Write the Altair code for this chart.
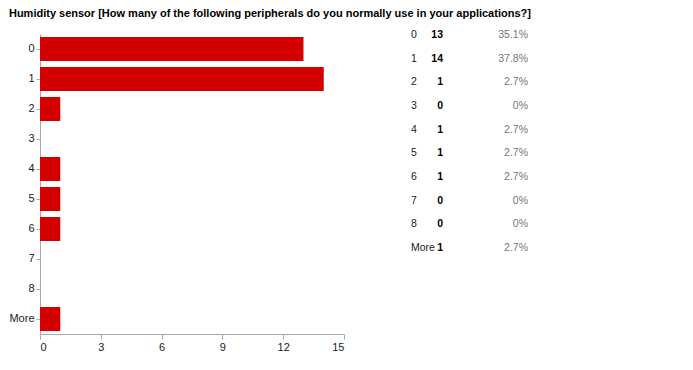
import altair as alt
import pandas as pd

categories = ["0", "1", "2", "3", "4", "5", "6", "7", "8", "More"]
counts = [13, 14, 1, 0, 1, 1, 1, 0, 0, 1]
pcts = ["35.1%", "37.8%", "2.7%", "0%", "2.7%", "2.7%", "2.7%", "0%", "0%", "2.7%"]
x_ticks = [0, 3, 6, 9, 12, 15]
title_text = "Humidity sensor [How many of the following peripherals do you normally use in your applications?]"

df = pd.DataFrame({"cat": categories, "count": counts, "pct": pcts})

FONT = "Liberation Sans, Arial, sans-serif"

bars = alt.Chart(df).mark_bar(color="#d40000").encode(
    y=alt.Y("cat:N", sort=categories, title=None,
            scale=alt.Scale(paddingInner=0.2, paddingOuter=0.1),
            axis=alt.Axis(domainColor="#aaaaaa", tickColor="#aaaaaa", tickSize=4,
                          labelPadding=2, labelFont=FONT, labelFontSize=11,
                          labelColor="#222222")),
    x=alt.X("count:Q", title=None,
            scale=alt.Scale(domain=[0, 15], nice=False),
            axis=alt.Axis(values=x_ticks, grid=False, domainColor="#aaaaaa",
                          tickColor="#aaaaaa", tickSize=5, labelPadding=2,
                          labelFont=FONT, labelFontSize=11, labelColor="#222222")),
)

ty = alt.Y("cat:N", sort=categories, axis=None,
           scale=alt.Scale(type="point", range=[1, 214], padding=0))

lab = alt.Chart(df).mark_text(align="left", baseline="middle", font=FONT,
                              fontSize=10.5, color="#222222").encode(
    y=ty, x=alt.value(371), text="cat:N")
cnt = alt.Chart(df).mark_text(align="right", baseline="middle", font=FONT,
                              fontSize=10.5, fontWeight="bold", color="#000000").encode(
    y=ty, x=alt.value(403), text="count:Q")
pct = alt.Chart(df).mark_text(align="right", baseline="middle", font=FONT,
                              fontSize=10.5, color="#777777").encode(
    y=ty, x=alt.value(488), text="pct:N")

chart = alt.layer(bars, lab, cnt, pct).resolve_scale(y="independent").properties(
    width=304, height=300,
    title=alt.TitleParams(title_text, anchor="start", frame="bounds", font=FONT,
                          fontSize=11, fontWeight="bold", color="#000000", offset=11),
    padding={"left": 0, "top": 0, "right": 0, "bottom": 0},
).configure_view(stroke=None)

chart.save("out.html", embed_options={"renderer": "svg", "actions": False})
